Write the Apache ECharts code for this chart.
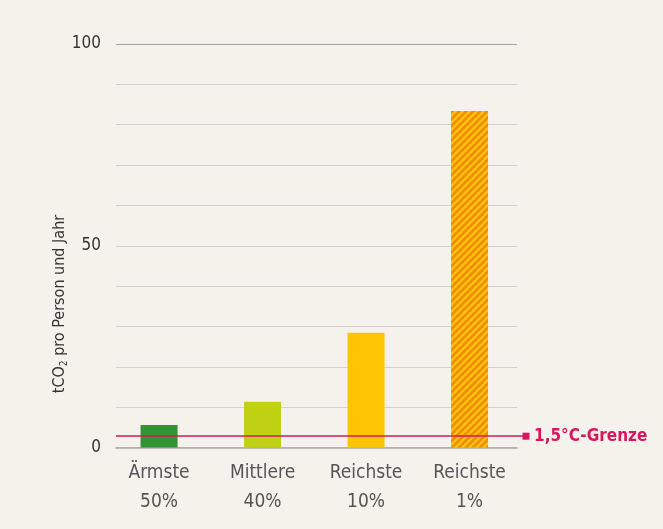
<!DOCTYPE html>
<html><head><meta charset="utf-8">
<script src="https://cdn.jsdelivr.net/npm/echarts@6/dist/echarts.min.js"></script>
<style>html,body{margin:0;padding:0;background:#f5f2ec}#c{width:663px;height:529px}</style>
</head><body><div id="c"></div>
<script>
const categories = ['Ärmste\n50%', 'Mittlere\n40%', 'Reichste\n10%', 'Reichste\n1%'];
const values = [5.6, 11.35, 28.45, 83.4];
const barColors = ['#329432', '#bfd112', '#ffc505', '#f08a00'];
const limitValue = 2.8;
const limitLabel = '1,5°C-Grenze';
const yTickLabels = {0: '0', 50: '50', 100: '100'};

function hatchPattern(bg, fg) {
  const P = 7;
  const c = document.createElement('canvas');
  c.width = P; c.height = P;
  const g = c.getContext('2d');
  g.fillStyle = bg; g.fillRect(0, 0, P, P);
  g.strokeStyle = fg; g.lineWidth = 2.5;
  for (let k = -1; k <= 3; k++) {
    const cc = k * P;
    g.beginPath();
    g.moveTo(cc + P, -P);
    g.lineTo(cc - 2 * P, 2 * P);
    g.stroke();
  }
  return {image: c, repeat: 'repeat'};
}

const chart = echarts.init(document.getElementById('c'), null, {renderer: 'canvas'});
const gridColors = [];
for (let i = 0; i <= 10; i++) gridColors.push(i === 10 ? '#a8a6a2' : '#d3d1cc');
const font = '"DejaVu Sans Condensed", "DejaVu Sans", sans-serif';

chart.setOption({
  backgroundColor: '#f5f2ec',
  animation: false,
  grid: [
    {left: 116, right: 146, top: 44, bottom: 81.5},
    {left: 107.3, right: 141.7, top: 44, bottom: 81.5},
    {left: 116, right: 137, top: 44, bottom: 81.5}
  ],
  xAxis: [
    {gridIndex: 0, type: 'category', data: categories, axisLine: {show: true, lineStyle: {color: '#a8a6a2', width: 1.5}}, axisTick: {show: false}, axisLabel: {show: false}, splitLine: {show: false}},
    {gridIndex: 1, type: 'category', data: categories, axisLine: {show: false}, axisTick: {show: false},
      axisLabel: {color: '#555', fontFamily: font, fontSize: 19, lineHeight: 29, margin: 11}},
    {gridIndex: 2, type: 'category', data: categories, show: false}
  ],
  yAxis: [
    {gridIndex: 0, type: 'value', min: 0, max: 100, interval: 10,
      axisLine: {show: false}, axisTick: {show: false},
      axisLabel: {margin: 15, color: '#333', fontFamily: font, fontSize: 17,
        formatter: v => (yTickLabels[v] !== undefined ? yTickLabels[v] : '')},
      splitLine: {show: true, lineStyle: {color: gridColors, width: 1}}},
    {gridIndex: 1, type: 'value', min: 0, max: 100, interval: 10, show: false, splitLine: {show: false}},
    {gridIndex: 2, type: 'value', min: 0, max: 100, interval: 10, show: false, splitLine: {show: false}}
  ],
  graphic: [{
    type: 'text', x: 60, y: 304, rotation: Math.PI / 2,
    style: {
      text: '{a|tCO}{s|2}{a| pro Person und Jahr}',
      align: 'center', verticalAlign: 'middle',
      rich: {
        a: {fontFamily: font, fontSize: 16, fill: '#333', lineHeight: 20},
        s: {fontFamily: font, fontSize: 10, fill: '#333', padding: [9, 0, 0, 0]}
      }
    }
  }],
  series: [
    {
      type: 'bar', xAxisIndex: 1, yAxisIndex: 1, barWidth: 37,
      data: values.map((v, i) => ({
        value: v,
        itemStyle: {color: i === 3 ? hatchPattern(barColors[i], '#ffc20e') : barColors[i]}
      }))
    },
    {
      type: 'line', xAxisIndex: 2, yAxisIndex: 2, data: [], z: 10,
      markLine: {
        silent: true, symbol: ['none', 'rect'], symbolSize: 7,
        lineStyle: {color: '#d6185f', width: 1.5, type: 'solid'},
        label: {show: true, position: 'end', formatter: limitLabel, color: '#d6185f', fontFamily: font, fontWeight: 'bold', fontSize: 17, distance: 8},
        data: [{yAxis: limitValue}]
      }
    }
  ]
});
</script></body></html>
